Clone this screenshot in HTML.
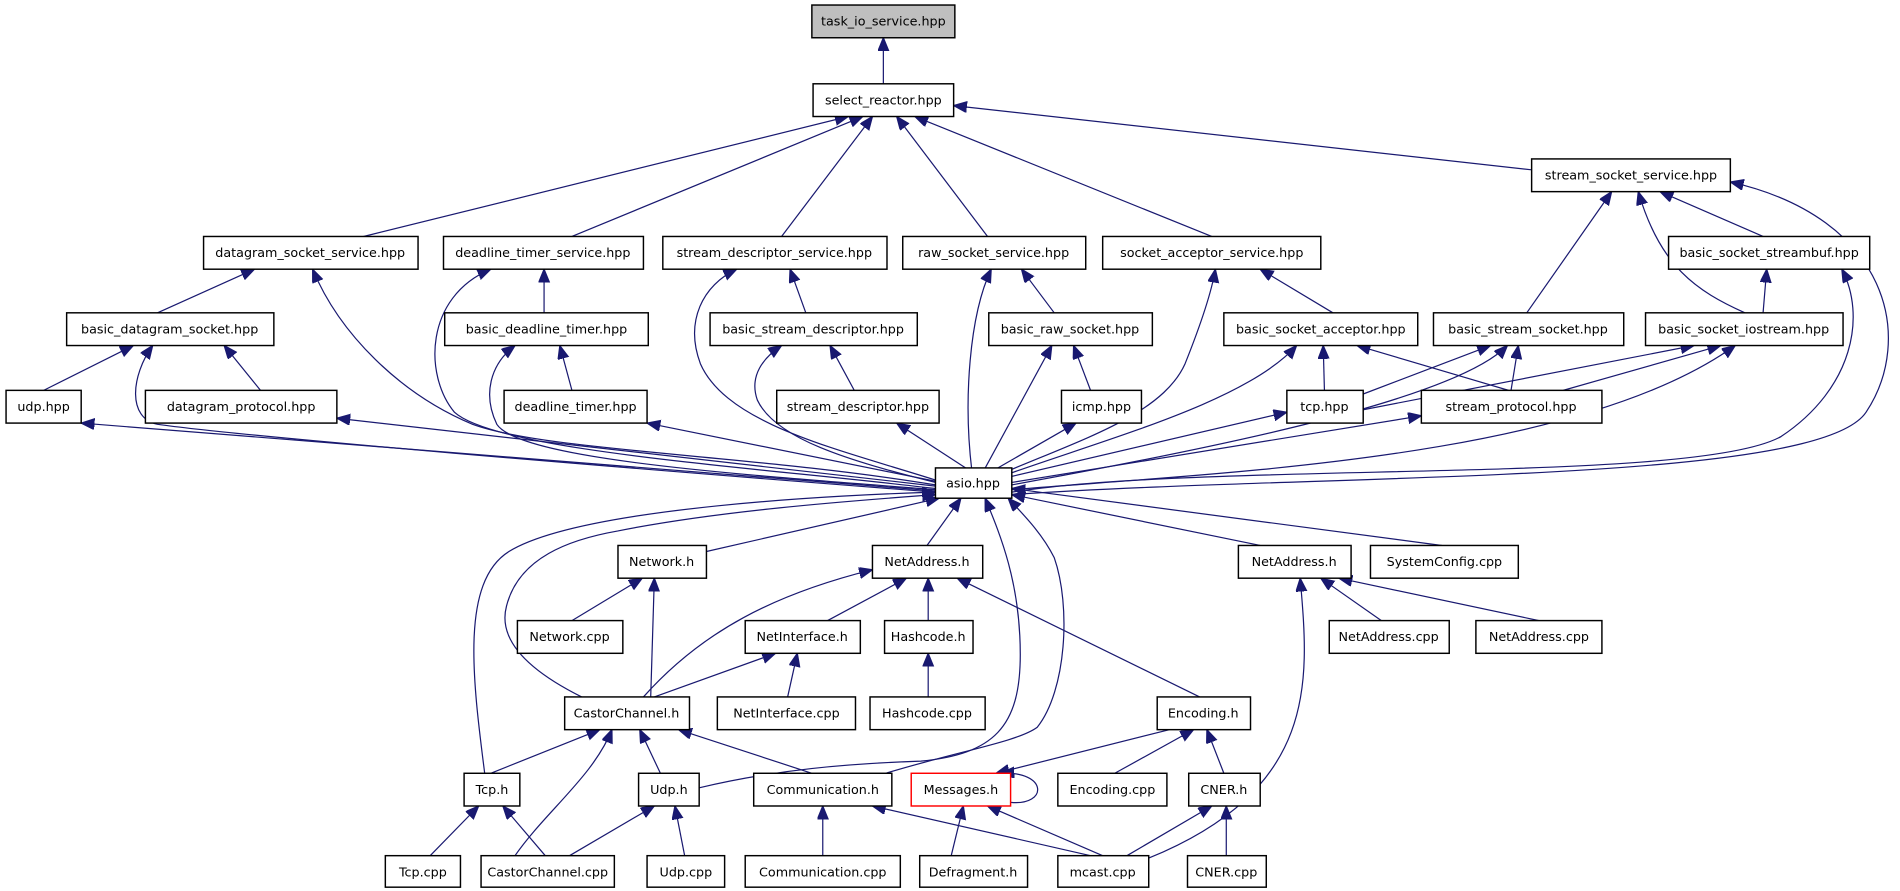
<!DOCTYPE html>
<html><head><meta charset="utf-8"><style>
html,body{margin:0;padding:0;background:#fff;}
svg{display:block}
text{font-family:"DejaVu Sans","Liberation Sans",sans-serif;font-size:10.5px;fill:#000;text-anchor:middle;}
rect{fill:#fff;stroke:#000;stroke-width:1.2}
path{fill:none;stroke:#191970;stroke-width:1}
</style></head><body>
<svg width="1900" height="891" viewBox="0 0 1568 735" xmlns="http://www.w3.org/2000/svg">
<defs><marker id="a" markerUnits="userSpaceOnUse" markerWidth="12" markerHeight="10" refX="11" refY="4.5" orient="auto"><path d="M0,0 L11,4.5 L0,9 Z" style="fill:#191970;stroke:#191970"/></marker></defs>
<g marker-end="url(#a)">
<path d="M729,69 L729,31"/>
<path d="M1264,140 L787,87"/>
<path d="M300,195 L700,96"/>
<path d="M472,195 L712,96"/>
<path d="M645,195 L720,96"/>
<path d="M815,195 L740,96"/>
<path d="M1000,195 L755,96"/>
<path d="M130,258 L210,222"/>
<path d="M772,400 C620,375 450,372 390,350 C330,325 280,275 258,222"/>
<path d="M449,258 L449,222"/>
<path d="M772,403 C620,385 410,372 375,340 C350,310 350,245 405,222"/>
<path d="M472,322 L462,285"/>
<path d="M772,404 C620,392 430,380 410,350 C398,325 405,300 425,285"/>
<path d="M665,258 L652,222"/>
<path d="M772,396 C690,370 600,350 578,300 C565,265 580,235 608,222"/>
<path d="M705,322 L685,285"/>
<path d="M772,398 C700,380 640,362 625,330 C618,310 630,295 645,285"/>
<path d="M800,388 L740,349"/>
<path d="M870,258 L843,222"/>
<path d="M802,388 C795,330 800,260 818,222"/>
<path d="M900,322 L886,285"/>
<path d="M812,388 L868,285"/>
<path d="M820,388 L888,349"/>
<path d="M1100,258 L1040,222"/>
<path d="M833,388 C900,360 960,340 978,300 C992,265 1000,240 1003,222"/>
<path d="M1093,322 L1092,285"/>
<path d="M1245,322 L1120,285"/>
<path d="M835,390 C920,360 1030,330 1070,285"/>
<path d="M835,393 L1062,340"/>
<path d="M1260,258 L1330,158"/>
<path d="M1455,195 L1370,158"/>
<path d="M1440,258 C1400,240 1370,220 1352,158"/>
<path d="M835,408 C1100,390 1500,400 1540,340 C1580,280 1560,180 1428,150"/>
<path d="M1455,258 L1458,222"/>
<path d="M835,406 C1000,380 1400,400 1470,360 C1530,320 1540,260 1520,222"/>
<path d="M1125,325 L1230,285"/>
<path d="M1247,322 L1253,285"/>
<path d="M835,400 C1000,370 1200,330 1244,285"/>
<path d="M1125,338 L1398,285"/>
<path d="M1290,322 L1420,285"/>
<path d="M835,404 C1000,390 1300,380 1432,285"/>
<path d="M835,398 L1173,343"/>
<path d="M36,322 L110,285"/>
<path d="M772,406 C500,385 200,360 130,350 C105,345 108,310 126,285"/>
<path d="M215,322 L185,285"/>
<path d="M772,405 L67,349"/>
<path d="M772,401 L278,345"/>
<path d="M772,397 L534,349"/>
<path d="M583,455 L775,411"/>
<path d="M765,450 L793,411"/>
<path d="M1040,450 L835,408"/>
<path d="M1190,450 L835,403"/>
<path d="M480,575 C440,555 410,530 418,500 C428,460 470,445 510,438 C600,420 720,412 772,408"/>
<path d="M400,638 C390,560 380,480 420,455 C480,418 700,408 772,406"/>
<path d="M577,650 C640,635 700,630 760,628 C820,622 842,600 842,540 C842,480 825,440 813,411"/>
<path d="M731,638 C790,620 840,612 856,600 C880,570 884,500 870,460 C860,440 845,425 832,411"/>
<path d="M472,512 L530,477"/>
<path d="M537,575 L540,477"/>
<path d="M531,575 C580,520 640,490 720,470"/>
<path d="M683,512 L748,477"/>
<path d="M766,512 L766,477"/>
<path d="M990,575 L790,477"/>
<path d="M540,575 L640,539"/>
<path d="M650,575 L658,539"/>
<path d="M766,575 L766,539"/>
<path d="M1140,512 L1090,477"/>
<path d="M1270,512 L1105,477"/>
<path d="M948,708 C1090,650 1080,560 1073,477"/>
<path d="M405,638 L495,602"/>
<path d="M425,706 C450,670 490,640 505,602"/>
<path d="M545,638 L528,602"/>
<path d="M670,638 L560,602"/>
<path d="M965,602 L822,638"/>
<path d="M920,638 L985,602"/>
<path d="M1010,638 L996,602"/>
<path d="M355,706 L395,665"/>
<path d="M450,706 L415,665"/>
<path d="M470,706 L540,665"/>
<path d="M565,706 L557,665"/>
<path d="M679,706 L679,665"/>
<path d="M900,706 L720,665"/>
<path d="M785,706 L795,665"/>
<path d="M910,706 L815,665"/>
<path d="M834,662 C865,665 865,636 826,638"/>
<path d="M930,706 L1000,665"/>
<path d="M1012,706 L1012,665"/>
</g>
<g>
<rect x="670" y="4" width="118" height="27" style="fill:#bfbfbf"/><text x="729" y="21">task_io_service.hpp</text>
<rect x="671" y="69" width="116" height="27"/><text x="729" y="86">select_reactor.hpp</text>
<rect x="1264" y="131" width="164" height="27"/><text x="1346" y="148">stream_socket_service.hpp</text>
<rect x="168" y="195" width="177" height="27"/><text x="256" y="212">datagram_socket_service.hpp</text>
<rect x="366" y="195" width="165" height="27"/><text x="448" y="212">deadline_timer_service.hpp</text>
<rect x="547" y="195" width="185" height="27"/><text x="639" y="212">stream_descriptor_service.hpp</text>
<rect x="745" y="195" width="151" height="27"/><text x="820" y="212">raw_socket_service.hpp</text>
<rect x="910" y="195" width="180" height="27"/><text x="1000" y="212">socket_acceptor_service.hpp</text>
<rect x="1377" y="195" width="166" height="27"/><text x="1460" y="212">basic_socket_streambuf.hpp</text>
<rect x="55" y="258" width="171" height="27"/><text x="140" y="275">basic_datagram_socket.hpp</text>
<rect x="367" y="258" width="168" height="27"/><text x="451" y="275">basic_deadline_timer.hpp</text>
<rect x="586" y="258" width="171" height="27"/><text x="671" y="275">basic_stream_descriptor.hpp</text>
<rect x="816" y="258" width="135" height="27"/><text x="883" y="275">basic_raw_socket.hpp</text>
<rect x="1010" y="258" width="160" height="27"/><text x="1090" y="275">basic_socket_acceptor.hpp</text>
<rect x="1183" y="258" width="157" height="27"/><text x="1261" y="275">basic_stream_socket.hpp</text>
<rect x="1358" y="258" width="163" height="27"/><text x="1439" y="275">basic_socket_iostream.hpp</text>
<rect x="5" y="322" width="62" height="27"/><text x="36" y="339">udp.hpp</text>
<rect x="120" y="322" width="158" height="27"/><text x="199" y="339">datagram_protocol.hpp</text>
<rect x="416" y="322" width="118" height="27"/><text x="475" y="339">deadline_timer.hpp</text>
<rect x="641" y="322" width="134" height="27"/><text x="708" y="339">stream_descriptor.hpp</text>
<rect x="876" y="322" width="66" height="27"/><text x="909" y="339">icmp.hpp</text>
<rect x="1062" y="322" width="63" height="27"/><text x="1093" y="339">tcp.hpp</text>
<rect x="1173" y="322" width="149" height="27"/><text x="1247" y="339">stream_protocol.hpp</text>
<rect x="772" y="386" width="63" height="25"/><text x="803" y="402">asio.hpp</text>
<rect x="510" y="450" width="73" height="27"/><text x="546" y="467">Network.h</text>
<rect x="720" y="450" width="91" height="27"/><text x="765" y="467">NetAddress.h</text>
<rect x="1022" y="450" width="93" height="27"/><text x="1068" y="467">NetAddress.h</text>
<rect x="1131" y="450" width="122" height="27"/><text x="1192" y="467">SystemConfig.cpp</text>
<rect x="427" y="512" width="87" height="27"/><text x="470" y="529">Network.cpp</text>
<rect x="615" y="512" width="95" height="27"/><text x="662" y="529">NetInterface.h</text>
<rect x="730" y="512" width="73" height="27"/><text x="766" y="529">Hashcode.h</text>
<rect x="1097" y="512" width="99" height="27"/><text x="1146" y="529">NetAddress.cpp</text>
<rect x="1218" y="512" width="104" height="27"/><text x="1270" y="529">NetAddress.cpp</text>
<rect x="466" y="575" width="103" height="27"/><text x="517" y="592">CastorChannel.h</text>
<rect x="592" y="575" width="114" height="27"/><text x="649" y="592">NetInterface.cpp</text>
<rect x="718" y="575" width="95" height="27"/><text x="765" y="592">Hashcode.cpp</text>
<rect x="955" y="575" width="77" height="27"/><text x="993" y="592">Encoding.h</text>
<rect x="383" y="638" width="46" height="27"/><text x="406" y="655">Tcp.h</text>
<rect x="527" y="638" width="50" height="27"/><text x="552" y="655">Udp.h</text>
<rect x="622" y="638" width="114" height="27"/><text x="679" y="655">Communication.h</text>
<rect x="752" y="638" width="82" height="27" style="stroke:#ff0000"/><text x="793" y="655">Messages.h</text>
<rect x="873" y="638" width="90" height="27"/><text x="918" y="655">Encoding.cpp</text>
<rect x="981" y="638" width="59" height="27"/><text x="1010" y="655">CNER.h</text>
<rect x="318" y="706" width="62" height="26"/><text x="349" y="723">Tcp.cpp</text>
<rect x="397" y="706" width="110" height="26"/><text x="452" y="723">CastorChannel.cpp</text>
<rect x="534" y="706" width="64" height="26"/><text x="566" y="723">Udp.cpp</text>
<rect x="615" y="706" width="128" height="26"/><text x="679" y="723">Communication.cpp</text>
<rect x="759" y="706" width="89" height="26"/><text x="803" y="723">Defragment.h</text>
<rect x="873" y="706" width="75" height="26"/><text x="910" y="723">mcast.cpp</text>
<rect x="980" y="706" width="65" height="26"/><text x="1012" y="723">CNER.cpp</text>
</g>
</svg>
</body></html>
